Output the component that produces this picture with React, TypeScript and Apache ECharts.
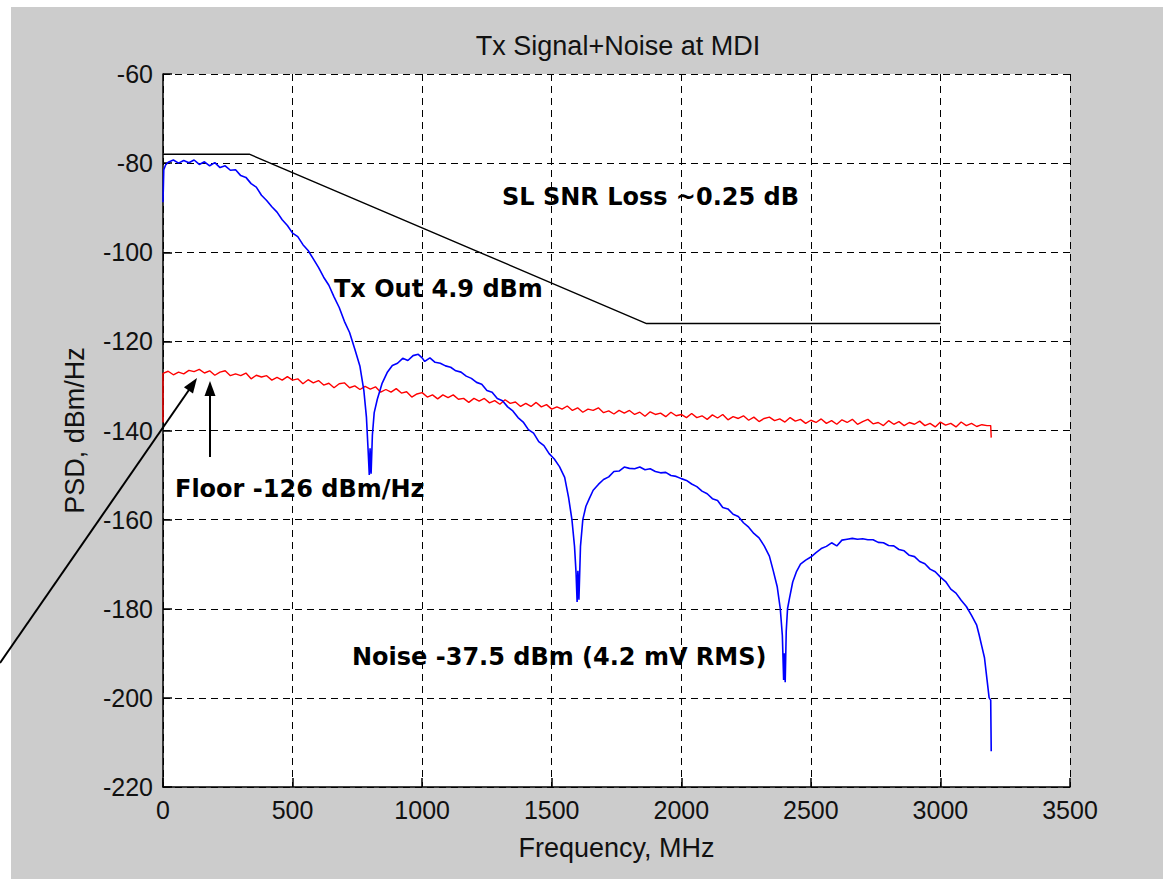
import React, { useEffect, useRef } from "react";
import * as echarts from "echarts";

const chartTitle = "Tx Signal+Noise at MDI";
const xName = "Frequency, MHz";
const yName = "PSD, dBm/Hz";

// Tx signal PSD (blue) [MHz, dBm/Hz]
const signalPsd: [number, number][] = [
  [0, -88.8], [3, -81.5], [10, -80.4], [20, -79.8], [40, -79.3], [60, -80.0], [80, -79.4], [100, -79.9],
  [120, -79.3], [140, -80.3], [160, -79.7], [180, -80.6], [200, -79.9], [220, -81.0], [240, -80.6],
  [260, -81.6], [280, -81.5], [300, -82.8], [320, -83.2], [340, -84.6], [360, -85.4], [380, -87.2],
  [400, -88.4], [420, -89.8], [440, -91.0], [460, -92.7], [480, -94.0], [500, -95.7], [520, -96.5],
  [540, -98.3], [560, -99.6], [580, -101.5], [600, -103.4], [620, -105.6], [640, -107.4], [660, -110.0],
  [680, -112.4], [700, -115.5], [720, -118.0], [740, -121.7], [760, -125.6], [775, -131], [785, -137],
  [792, -145], [796, -150], [799, -144], [803, -149.7], [808, -141], [815, -136], [827, -133],
  [845, -129.5], [865, -127], [885, -125.4], [905, -124.9], [925, -123.8], [945, -124.3], [965, -123.2],
  [985, -122.9], [1000, -123.7], [1010, -124.5], [1030, -123.7], [1050, -124.7], [1070, -124.9],
  [1090, -125.5], [1110, -125.8], [1130, -126.6], [1150, -126.9], [1170, -127.8], [1190, -128.3],
  [1210, -129.2], [1230, -129.6], [1250, -131.0], [1270, -131.4], [1290, -132.8], [1310, -133.3],
  [1330, -134.7], [1350, -135.6], [1370, -137.1], [1390, -138.1], [1410, -139.8], [1430, -140.6],
  [1450, -142.5], [1470, -143.4], [1490, -145.2], [1510, -146.4], [1530, -148.1], [1550, -150.5],
  [1565, -155], [1578, -160], [1588, -166], [1594, -172], [1598, -178.5], [1601, -171.5], [1605, -178],
  [1611, -166], [1620, -160], [1632, -157], [1645, -155.3], [1660, -153.4], [1680, -152.1], [1700, -151.0],
  [1720, -150.4], [1740, -149.2], [1760, -149.1], [1780, -148.2], [1800, -148.5], [1820, -148.6],
  [1840, -148.2], [1860, -148.8], [1880, -148.6], [1900, -149.2], [1920, -149.5], [1940, -149.4],
  [1960, -150.1], [1980, -150.3], [2000, -150.8], [2020, -151.2], [2040, -152.0], [2060, -152.6],
  [2080, -153.6], [2100, -154.2], [2120, -155.3], [2140, -155.7], [2160, -157.3], [2180, -157.6],
  [2200, -158.8], [2220, -159.3], [2240, -160.7], [2260, -161.7], [2280, -163.1], [2300, -164.1],
  [2320, -165.9], [2340, -168.2], [2355, -171.5], [2370, -175], [2382, -180], [2390, -186], [2395, -196],
  [2398, -190], [2401, -196.5], [2405, -185], [2410, -180], [2418, -177.5], [2430, -174], [2445, -171.6],
  [2460, -170.0], [2480, -169.1], [2500, -168.4], [2520, -167.4], [2540, -166.5], [2560, -166.0],
  [2580, -165.2], [2600, -165.9], [2620, -164.6], [2640, -164.4], [2660, -164.2], [2680, -164.4],
  [2700, -164.3], [2720, -164.5], [2740, -164.5], [2760, -165.1], [2780, -165.2], [2800, -165.8],
  [2820, -165.9], [2840, -166.7], [2860, -167.0], [2880, -168.0], [2900, -168.3], [2920, -169.4],
  [2940, -169.9], [2960, -171.1], [2980, -171.7], [3000, -172.9], [3020, -173.9], [3040, -175.6],
  [3060, -176.5], [3080, -178.1], [3100, -179.5], [3120, -181.5], [3140, -183.7], [3150, -186],
  [3160, -188.5], [3170, -191], [3180, -196], [3188, -200], [3194, -200.5], [3196, -212],
];

// Noise floor PSD (red) [MHz, dBm/Hz]
const noisePsd: [number, number][] = [
  [0, -138.2], [0, -127.2], [20, -126.7], [40, -127.5], [60, -126.9], [80, -127.3], [100, -126.5],
  [120, -126.8], [140, -126.3], [160, -127.1], [180, -126.6], [200, -127.6], [220, -126.9], [240, -126.6],
  [260, -127.7], [280, -127.3], [300, -127.7], [320, -127.1], [340, -128.4], [360, -127.6], [380, -128.0],
  [400, -127.7], [420, -128.7], [440, -128.1], [460, -128.7], [480, -127.9], [500, -128.7], [520, -128.4],
  [540, -129.5], [560, -128.6], [580, -129.3], [600, -128.8], [620, -129.8], [640, -129.4], [660, -130.4],
  [680, -129.5], [700, -129.3], [720, -130.4], [740, -130.0], [760, -130.8], [780, -130.1], [800, -130.7],
  [820, -130.2], [840, -131.4], [860, -130.8], [880, -131.4], [900, -130.6], [920, -131.6], [940, -131.3],
  [960, -132.5], [980, -131.8], [1000, -131.5], [1020, -132.5], [1040, -132.0], [1060, -132.9],
  [1080, -132.0], [1100, -132.6], [1120, -132.0], [1140, -133.0], [1160, -132.8], [1180, -133.7],
  [1200, -132.8], [1220, -133.4], [1240, -132.8], [1260, -133.8], [1280, -133.3], [1300, -134.1],
  [1320, -133.1], [1340, -133.9], [1360, -133.6], [1380, -134.6], [1400, -133.9], [1420, -134.6],
  [1440, -133.7], [1460, -134.7], [1480, -134.2], [1500, -135.2], [1520, -134.7], [1540, -135.2],
  [1560, -134.5], [1580, -135.5], [1600, -134.9], [1620, -135.9], [1640, -135.2], [1660, -135.5],
  [1680, -134.9], [1700, -136.0], [1720, -135.6], [1740, -136.3], [1760, -135.5], [1780, -136.1],
  [1800, -135.5], [1820, -136.4], [1840, -135.9], [1860, -136.8], [1880, -135.8], [1900, -136.4],
  [1920, -136.1], [1940, -136.9], [1960, -135.9], [1980, -136.7], [2000, -136.4], [2020, -137.1],
  [2040, -136.2], [2060, -137.1], [2080, -136.7], [2100, -137.5], [2120, -136.5], [2140, -137.2],
  [2160, -136.4], [2180, -137.6], [2200, -136.9], [2220, -137.3], [2240, -136.7], [2260, -137.7],
  [2280, -137.0], [2300, -138.0], [2320, -137.3], [2340, -137.0], [2360, -137.8], [2380, -137.4],
  [2400, -138.1], [2420, -137.1], [2440, -137.9], [2460, -137.5], [2480, -138.4], [2500, -137.7],
  [2520, -138.2], [2540, -137.4], [2560, -138.4], [2580, -137.8], [2600, -138.6], [2620, -137.6],
  [2640, -138.2], [2660, -137.5], [2680, -138.6], [2700, -138.0], [2720, -137.5], [2740, -138.5],
  [2760, -138.2], [2780, -138.9], [2800, -137.8], [2820, -138.6], [2840, -138.0], [2860, -138.9],
  [2880, -138.2], [2900, -138.6], [2920, -137.9], [2940, -138.9], [2960, -138.4], [2980, -139.2],
  [3000, -138.1], [3020, -138.8], [3040, -138.4], [3060, -139.2], [3080, -138.1], [3100, -138.9],
  [3120, -138.4], [3140, -139.1], [3160, -138.7], [3180, -138.9], [3194, -138.9], [3196, -141.6],
];

// Spectral limit mask (black) [MHz, dBm/Hz]
const maskLimit: [number, number][] = [
  [0, -78], [333, -78], [1866, -116], [3000, -116],
];

const annotations = [
  { text: "SL SNR Loss ~0.25 dB", x: 502, y: 197 },
  { text: "Tx Out 4.9 dBm", x: 334, y: 289 },
  { text: "Floor -126 dBm/Hz", x: 175, y: 489 },
  { text: "Noise -37.5 dBm (4.2 mV RMS)", x: 352, y: 657 },
];

function arrowHead(tx: number, ty: number, fx: number, fy: number, len: number, half: number) {
  const dx = tx - fx;
  const dy = ty - fy;
  const l = Math.sqrt(dx * dx + dy * dy);
  const ux = dx / l;
  const uy = dy / l;
  const bx = tx - ux * len;
  const by = ty - uy * len;
  return [
    [tx, ty],
    [bx - uy * half, by + ux * half],
    [bx + uy * half, by - ux * half],
  ];
}

export default function App() {
  const ref = useRef<HTMLDivElement>(null);

  useEffect(() => {
    if (!ref.current) return;
    const chart = echarts.init(ref.current, undefined, { renderer: "svg" });
    const tickFont = { fontFamily: "Liberation Sans", fontSize: 25, color: "#111" };
    const gridLine = { show: true, lineStyle: { color: "#000", width: 1, type: [7, 5] as any } };

    const arrows: any[] = [];
    const longFrom = [0, 663];
    const longTo = [197, 378];
    arrows.push({
      type: "line", z: 100,
      shape: { x1: longFrom[0], y1: longFrom[1], x2: longTo[0] - 6, y2: longTo[1] + 9 },
      style: { stroke: "#000", lineWidth: 2 },
    });
    arrows.push({
      type: "polygon", z: 100,
      shape: { points: arrowHead(longTo[0], longTo[1], longFrom[0], longFrom[1], 15, 5.5) },
      style: { fill: "#000" },
    });
    const shortFrom = [210, 457];
    const shortTo = [210, 381];
    arrows.push({
      type: "line", z: 100,
      shape: { x1: shortFrom[0], y1: shortFrom[1], x2: shortTo[0], y2: shortTo[1] + 10 },
      style: { stroke: "#000", lineWidth: 2 },
    });
    arrows.push({
      type: "polygon", z: 100,
      shape: { points: arrowHead(shortTo[0], shortTo[1], shortFrom[0], shortFrom[1], 15, 5.5) },
      style: { fill: "#000" },
    });

    chart.setOption({
      animation: false,
      backgroundColor: "#cccccc",
      title: {
        text: chartTitle,
        left: 613,
        top: 27,
        textAlign: "center",
        textStyle: { fontFamily: "Liberation Sans", fontSize: 27, fontWeight: "normal", color: "#111" },
      },
      grid: {
        left: 163, top: 74, right: 93, bottom: 92,
        show: true, backgroundColor: "#ffffff", borderWidth: 0,
      },
      xAxis: {
        type: "value", min: 0, max: 3500, interval: 500,
        name: xName, nameLocation: "middle", nameGap: 47,
        nameTextStyle: { fontFamily: "Liberation Sans", fontSize: 27, color: "#111" },
        axisLine: { show: true, onZero: false, lineStyle: { color: "#000", width: 1.5 } },
        axisTick: { show: true, inside: true, length: 9, lineStyle: { color: "#000", width: 1.5 } },
        axisLabel: { ...tickFont, margin: 10, formatter: (v: number) => String(v) },
        splitLine: gridLine,
      },
      yAxis: {
        type: "value", min: -220, max: -60, interval: 20,
        name: yName, nameLocation: "middle", nameGap: 75,
        nameTextStyle: { fontFamily: "Liberation Sans", fontSize: 27, color: "#111" },
        axisLine: { show: true, onZero: false, lineStyle: { color: "#000", width: 1.5 } },
        axisTick: { show: true, inside: true, length: 9, lineStyle: { color: "#000", width: 1.5 } },
        axisLabel: { ...tickFont, margin: 10, formatter: (v: number) => String(v) },
        splitLine: gridLine,
      },
      series: [
        {
          type: "line", name: "Noise", data: noisePsd, symbol: "none", z: 3,
          lineStyle: { color: "#ff0000", width: 1.4 },
        },
        {
          type: "line", name: "Tx Out", data: signalPsd, symbol: "none", z: 4,
          lineStyle: { color: "#0000ff", width: 1.6 },
        },
        {
          type: "line", name: "Mask", data: maskLimit, symbol: "none", z: 5,
          lineStyle: { color: "#000000", width: 1.4 },
        },
      ],
      graphic: [
        { type: "rect", z: 1, shape: { x: 0, y: 0, width: 11, height: 879 }, style: { fill: "#ffffff" } },
        { type: "rect", z: 1, shape: { x: 0, y: 0, width: 1163, height: 7 }, style: { fill: "#ffffff" } },
        ...annotations.map((a) => ({
          type: "text", z: 100, x: a.x, y: a.y,
          style: {
            text: a.text, font: 'bold 24px "DejaVu Sans"', fill: "#000",
            align: "left", verticalAlign: "middle", textAlign: "left", textVerticalAlign: "middle",
          },
        })),
        ...arrows,
      ],
    });
    return () => chart.dispose();
  }, []);

  return (
    <div
      ref={ref}
      style={{ position: "fixed", left: 0, top: 0, width: 1163, height: 879 }}
    />
  );
}
